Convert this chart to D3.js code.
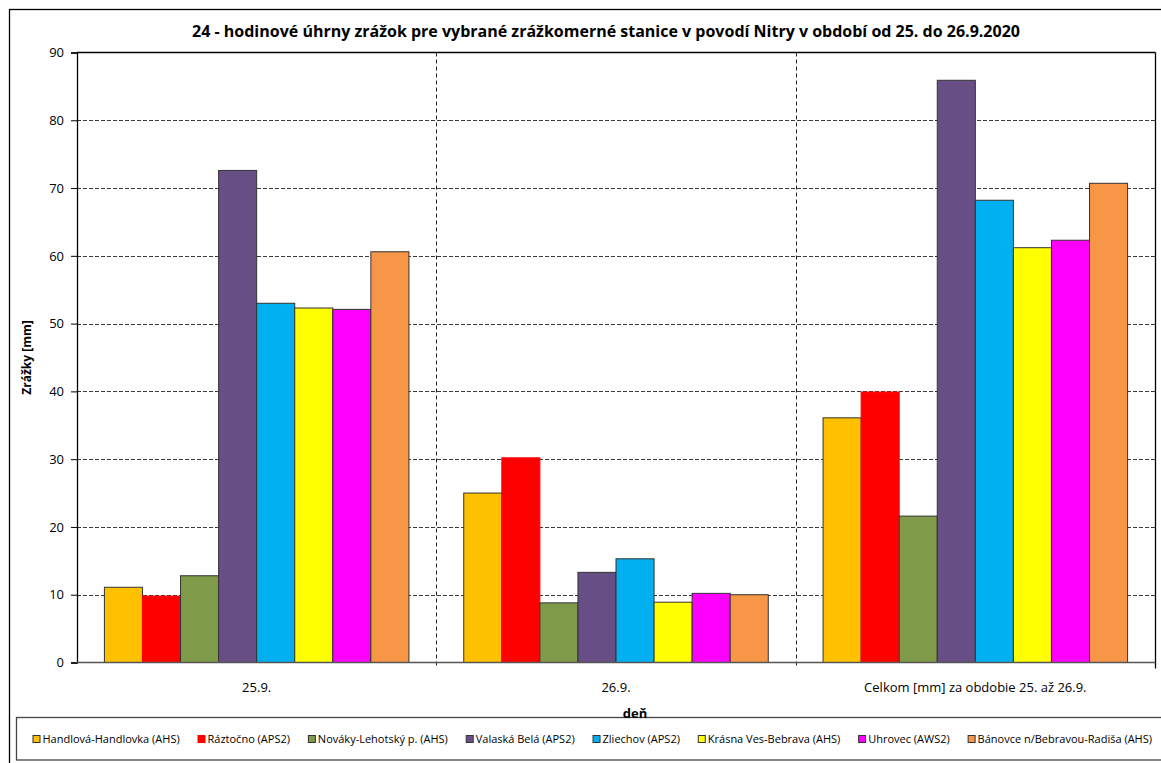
<!DOCTYPE html>
<html><head><meta charset="utf-8">
<script src="https://cdn.jsdelivr.net/npm/d3@7"></script>
<style>
body{margin:0;background:#fff;}
svg text{font-family:"Open Sans","Noto Sans",sans-serif;fill:#000;}
</style>
</head><body>
<svg id="chart" width="1161" height="763"></svg>
<script>
// ---- data ----
const categories = ["25.9.", "26.9.", "Celkom [mm] za obdobie 25. až 26.9."];
const stations = ["Handlová-Handlovka (AHS)", "Ráztočno (APS2)", "Nováky-Lehotský p. (AHS)", "Valaská Belá (APS2)", "Zliechov (APS2)", "Krásna Ves-Bebrava (AHS)", "Uhrovec (AWS2)", "Bánovce n/Bebravou-Radiša (AHS)"];
const colors = ["#FFC000", "#FF0000", "#7F9A48", "#674F85", "#00B0F0", "#FFFF00", "#FF00FF", "#F79646"];
const handlova = [11.1, 25.0, 36.1];
const raztocno = [9.8, 30.2, 39.9];
const novaky = [12.8, 8.8, 21.6];
const valaska = [72.6, 13.3, 85.9];
const zliechov = [53.0, 15.3, 68.2];
const krasna = [52.3, 8.9, 61.2];
const uhrovec = [52.1, 10.2, 62.3];
const banovce = [60.6, 10.0, 70.7];
const yTicks = [0, 10, 20, 30, 40, 50, 60, 70, 80, 90];
const title = "24 - hodinové úhrny zrážok pre vybrané zrážkomerné stanice v povodí Nitry v období od 25. do 26.9.2020";
const yTitle = "Zrážky [mm]";
const xTitle = "deň";

const seriesValues = [handlova, raztocno, novaky, valaska, zliechov, krasna, uhrovec, banovce];
const series = stations.map((s, i) => ({name: s, color: colors[i], values: seriesValues[i]}));

// ---- layout ----
const svg = d3.select("#chart");
const L = 77, R = 1155, T = 52.5, B = 662.5;

// outer chart border
svg.append("rect").attr("x", 9.5).attr("y", 9.5).attr("width", 1160).attr("height", 760)
  .attr("fill", "#fff").attr("stroke", "#000").attr("stroke-width", 1.3);

const y = d3.scaleLinear().domain([0, 90]).range([B, T]);
const x0 = d3.scaleBand().domain(categories).range([L, R]).padding(0);
const x1 = d3.scaleBand().domain(stations).range([0, x0.bandwidth()]).paddingInner(0).paddingOuter(0.72);

// horizontal gridlines
svg.append("g").selectAll("line").data(yTicks.filter(d => d > 0 && d < 90)).join("line")
  .attr("x1", L).attr("x2", R).attr("y1", d => Math.round(y(d)) + 0.5).attr("y2", d => Math.round(y(d)) + 0.5)
  .attr("stroke", "#3a3a3a").attr("stroke-width", 1).attr("stroke-dasharray", "4,2");

// vertical category separators (dashed)
const seps = categories.slice(1).map(c => x0(c));
svg.append("g").selectAll("line").data(seps).join("line")
  .attr("x1", d => Math.round(d) + 0.5).attr("x2", d => Math.round(d) + 0.5)
  .attr("y1", T).attr("y2", B + 6)
  .attr("stroke", "#222").attr("stroke-width", 1).attr("stroke-dasharray", "4,3");

// bars
const gCat = svg.append("g").selectAll("g").data(categories).join("g")
  .attr("transform", d => `translate(${x0(d)},0)`);
gCat.selectAll("rect").data((c, ci) => series.map(s => ({s, v: s.values[ci]}))).join("rect")
  .attr("x", d => x1(d.s.name)).attr("width", x1.bandwidth())
  .attr("y", d => y(d.v)).attr("height", d => B - y(d.v))
  .attr("fill", d => d.s.color)
  .attr("stroke", d => d.s.color === "#FF0000" ? "#FF0000" : "#333")
  .attr("stroke-width", 1);

// plot frame: top, right solid
svg.append("line").attr("x1", L).attr("x2", R + 0.5).attr("y1", T).attr("y2", T).attr("stroke", "#000").attr("stroke-width", 1.3);
svg.append("line").attr("x1", R + 0.5).attr("x2", R + 0.5).attr("y1", T).attr("y2", B + 6).attr("stroke", "#000").attr("stroke-width", 1.3);

// y axis
const yAxis = svg.append("g").attr("transform", `translate(${L},0)`)
  .call(d3.axisLeft(y).tickValues(yTicks).tickSize(6).tickPadding(7).tickFormat(d3.format("d")));
yAxis.select(".domain").attr("stroke", "#000").attr("stroke-width", 1.3);
yAxis.selectAll(".tick line").attr("stroke", "#000");
yAxis.selectAll(".tick text").style("font-size", "13px").attr("fill", "#1a1a1a").style("font-family", "'Open Sans',sans-serif");

// x axis line
svg.append("line").attr("x1", L).attr("x2", R + 0.5).attr("y1", B).attr("y2", B).attr("stroke", "#555").attr("stroke-width", 1.3);

// category labels
svg.append("g").selectAll("text").data(categories).join("text")
  .attr("x", d => x0(d) + x0.bandwidth() / 2).attr("y", 692)
  .attr("text-anchor", "middle").style("font-size", "13px").attr("fill", "#1a1a1a")
  .text(d => d);

// titles
svg.append("text").attr("x", 606).attr("y", 37).attr("text-anchor", "middle")
  .style("font-size", "16px").style("font-weight", "bold").text(title);
svg.append("text").attr("transform", `translate(31,${(T + B) / 2}) rotate(-90)`).attr("text-anchor", "middle")
  .style("font-size", "12px").style("font-weight", "bold").text(yTitle);

// legend box
svg.append("rect").attr("x", 16.5).attr("y", 717.5).attr("width", 1160).attr("height", 42.5)
  .attr("fill", "#fff").attr("stroke", "#444").attr("stroke-width", 1.3);

svg.append("text").attr("x", 635).attr("y", 718).attr("text-anchor", "middle")
  .style("font-size", "13px").style("font-weight", "bold").text(xTitle);

// legend items
const legX0 = 33, legX1 = 1152, sq = 7, sqGap = 2.5;
const leg = svg.append("g");
const items = leg.selectAll("g").data(series).join("g");
items.append("rect").attr("width", sq).attr("height", sq).attr("y", 739 - sq / 2)
  .attr("fill", d => d.color).attr("stroke", d => d.color === "#FF0000" ? "#FF0000" : "#333").attr("stroke-width", 1);
items.append("text").attr("x", sq + sqGap).attr("y", 739).attr("dy", "0.35em")
  .style("font-size", "11px").attr("fill", "#1a1a1a").text(d => d.name);
const widths = [];
items.each(function () { widths.push(sq + sqGap + d3.select(this).select("text").node().getComputedTextLength()); });
const gap = (legX1 - legX0 - d3.sum(widths)) / (widths.length - 1);
let cx = legX0;
items.attr("transform", (d, i) => { const t = `translate(${cx},0)`; cx += widths[i] + gap; return t; });
</script>
</body></html>
